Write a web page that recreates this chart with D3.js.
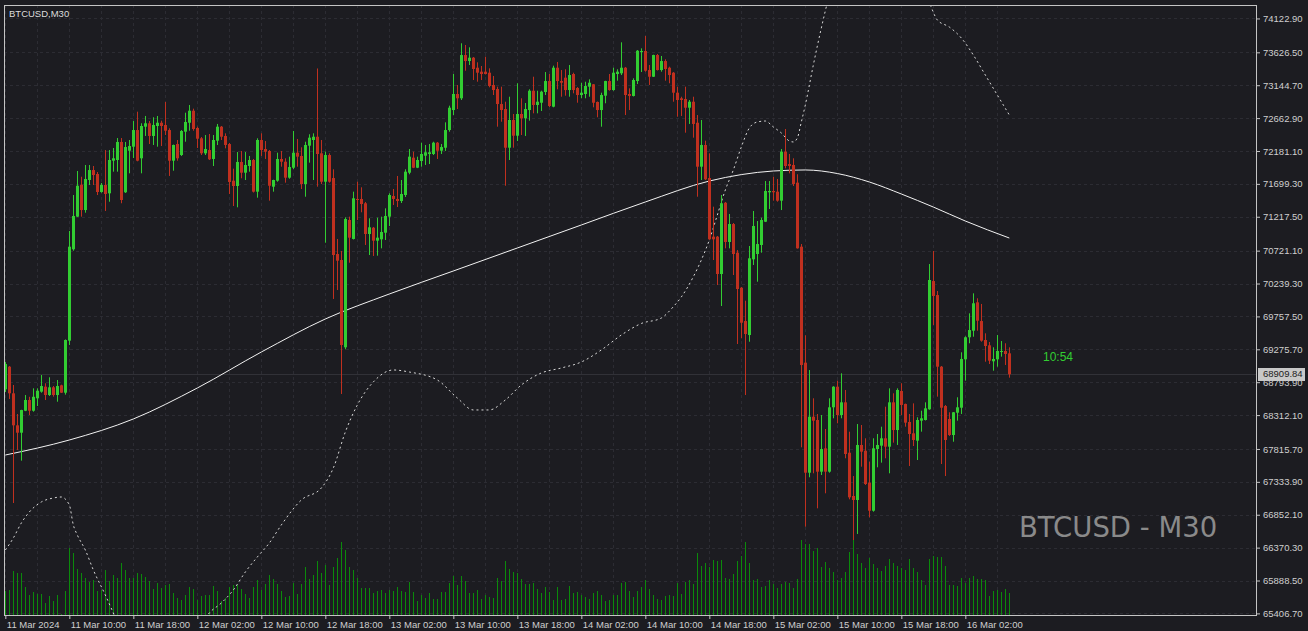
<!DOCTYPE html>
<html><head><meta charset="utf-8">
<script src="https://cdn.jsdelivr.net/npm/d3@7"></script>
<style>
html,body{margin:0;padding:0;background:#1c1c21;overflow:hidden;}
svg{display:block;}
</style></head><body>
<svg id="chart" width="1308" height="631"></svg>
<script>
const symbolTitle = "BTCUSD,M30";
const watermark = "BTCUSD - M30";
const timerText = "10:54";
const lastPrice = 68909.84;

const priceTicks = [74122.90, 73626.50, 73144.70, 72662.90, 72181.10, 71699.30, 71217.50, 70721.10, 70239.30, 69757.50, 69275.70, 68793.90, 68312.10, 67815.70, 67333.90, 66852.10, 66370.30, 65888.50, 65406.70];

const timeTickIdx = [0, 16, 32, 48, 64, 80, 96, 112, 128, 144, 160, 176, 192, 208, 224, 240];
const timeTickLabels = ["11 Mar 2024", "11 Mar 10:00", "11 Mar 18:00", "12 Mar 02:00", "12 Mar 10:00", "12 Mar 18:00", "13 Mar 02:00", "13 Mar 10:00", "13 Mar 18:00", "14 Mar 02:00", "14 Mar 10:00", "14 Mar 18:00", "15 Mar 02:00", "15 Mar 10:00", "15 Mar 18:00", "16 Mar 02:00"];

const opens = [68690,69021,68631,68162,68054,68376,68533,68376,68558,68655,68728,68606,68719,68606,68748,68640,69402,70741,71219,71687,71316,71756,71902,71844,71580,71683,71561,72039,72049,72313,71576,72185,72244,72488,72074,72537,72587,72401,72547,72595,72562,72488,72039,72283,72122,72464,72595,72771,72518,72367,72147,72195,72064,72332,72537,72401,72283,71746,71668,72020,71863,71961,72049,71585,72342,72210,72181,71658,71746,72064,72024,71790,71936,72156,72108,71697,72259,72342,72390,72147,71731,72122,71785,70672,70584,69305,71170,70892,71478,71478,71415,70965,71057,70867,70887,70984,71219,71522,71478,71448,71536,71863,72083,71936,72034,72112,72137,72137,72303,72185,72229,72488,72781,73016,72953,73587,73499,73548,73401,73343,73343,73328,73148,73089,72869,72796,72229,72635,72405,72723,72660,72781,73064,72855,72888,73045,73206,72830,73401,73206,73255,73074,73309,73104,73001,73016,73123,73158,72899,72781,72991,73206,73074,73309,73319,73401,73016,72987,73206,73631,73646,73367,73269,73587,73367,73499,73401,73328,73035,72953,72943,72815,72903,72595,71951,72269,71785,70926,70926,70379,71423,70848,71111,70691,70178,69690,69485,70594,70672,70804,71145,71576,71595,71585,71453,72171,71990,71976,71717,70779,69080,67468,68288,68240,67483,67825,67483,68426,68728,68313,68499,67761,67127,67068,67874,67790,67322,66911,67815,67864,67972,67849,68499,68093,68665,68475,68211,68045,67937,68230,68240,68397,70276,70071,69021,68445,68255,68020,68347,68420,69129,69452,69548,69964,69690,69412,69334,69100,69129,69241,69251,69217];

const highs = [69090,69031,68753,68328,68390,68606,68580,68704,68704,68899,68778,68866,68738,68826,68757,69420,71009,71536,71888,71804,71976,71976,71961,71873,71712,72195,72195,72225,72371,72371,72313,72342,72620,72757,72587,72694,72620,72675,72694,72625,72899,72513,72275,72342,72488,72742,72855,72801,72537,72386,72415,72430,72415,72577,72547,72440,72298,71922,72166,72181,72166,72108,72064,72367,72440,72327,72195,71760,72156,72181,72074,72098,72474,72357,72235,72317,72426,72440,73390,72342,72171,72147,71913,70892,70716,71209,71219,71585,71731,71649,71434,71195,71068,71204,71219,71341,71561,71624,71815,71756,71913,72210,72171,72098,72303,72269,72283,72317,72313,72283,72601,72845,73309,73148,73759,73734,73700,73558,73480,73426,73562,73392,73280,73123,73123,72903,72976,72723,73173,72953,72884,73085,73269,73064,73064,73338,73309,73431,73485,73367,73378,73441,73328,73118,73181,73196,73231,73162,72906,73035,73210,73309,73401,73378,73773,73412,73099,73246,73660,73685,73866,73441,73592,73602,73573,73524,73416,73338,73123,72976,73123,72928,72976,72708,72635,72332,72147,71365,70936,71536,71434,71258,71126,70730,70188,69988,70789,71302,71155,71204,71741,71741,71804,71771,72210,72503,72137,72074,71840,70818,69481,68972,68558,68328,68313,68108,68558,68735,68816,68924,68680,68069,67419,68181,68167,67972,67629,67972,68035,68142,68435,68704,68631,68704,68778,68480,68328,68484,68280,68376,68499,70525,70716,70130,69031,68460,68353,68357,68573,69232,69466,69803,70096,70023,69940,69510,69383,69305,69485,69397,69364,69305];

const lows = [68650,68548,67024,67800,67644,68370,68313,68362,68445,68640,68533,68592,68582,68508,68636,68611,69339,70720,71215,71219,71277,71683,71683,71536,71570,71302,71438,71878,71878,71415,71566,71854,72078,72030,71854,72401,72283,72269,72244,72254,72415,71815,71892,72039,72108,72317,72478,72478,72225,72122,72122,72049,71961,72269,72342,72220,71551,71375,71356,71781,71756,71878,71573,71497,72108,72064,71453,71585,71731,71951,71717,71775,71917,71951,71624,71511,72010,71756,71658,71697,70837,71717,70013,70144,68621,69276,70544,70885,71170,71283,70804,70657,70643,70647,70755,70877,71082,71390,71360,71419,71507,71840,71930,71930,71951,71976,71990,72122,72064,72137,72181,72464,72708,72796,72928,73357,73441,73221,73196,73221,73302,73114,73001,72537,72610,71672,72049,72229,72327,72415,72401,72625,72733,72733,72767,73001,72825,72821,73085,72976,72991,72976,73026,72888,72953,72953,72976,72821,72675,72537,72880,73064,73064,73211,73294,72708,72781,72980,73162,73338,73343,73148,73265,73360,73343,73211,73173,72903,72683,72694,72449,72577,72376,71511,71756,71756,70880,70584,70218,69910,70755,70755,70364,69353,69437,68606,69387,70511,70266,70691,71140,71331,71453,71438,71316,71927,71854,71668,70750,67840,66677,67401,67459,66946,67434,67166,67468,68265,68192,68265,67679,67078,66482,66570,67556,67288,66814,66897,67547,67615,67679,67459,67908,67874,68313,68142,67566,67859,67654,68069,68233,68390,69632,68582,67595,67419,68006,67922,68230,68328,68816,69364,69460,69548,69387,69094,69060,68962,69021,69168,69046,68860];

const closes = [69060,68631,68162,68054,68386,68533,68376,68580,68669,68738,68606,68719,68606,68738,68640,69412,70779,71229,71672,71316,71771,71902,71829,71580,71683,71551,72049,72074,72313,71463,72239,72254,72488,72039,72547,72587,72401,72562,72595,72547,72478,72039,72269,72074,72474,72606,72771,72503,72361,72147,72210,72059,72342,72537,72390,72269,71727,71668,72020,71863,71976,72049,71585,72342,72195,72171,71672,71756,72064,72024,71790,71946,72156,72098,71697,72269,72376,72390,72137,71731,72122,71731,70657,70574,69339,71185,70911,71488,71463,71404,70965,71063,70867,70911,70994,71229,71536,71478,71448,71551,71878,72098,71936,72049,72137,72162,72162,72303,72185,72239,72488,72815,73016,72953,73587,73499,73548,73382,73328,73309,73309,73133,73074,72869,72781,72229,72635,72405,72723,72660,72796,73064,72855,72903,73050,73206,72840,73401,73206,73181,73074,73294,73074,73001,73035,73133,73181,72888,72781,73001,73206,73074,73328,73343,73401,73001,72987,73221,73650,73646,73357,73269,73587,73367,73499,73382,73294,73035,72928,72928,72815,72903,72577,71951,72269,71766,70887,70887,70379,71415,70848,71111,70672,70159,69665,69500,70609,71082,70818,71170,71595,71595,71576,71453,72171,71961,71961,71697,70755,69046,67468,68288,68230,67483,67815,67483,68426,68728,68313,68499,67742,67107,67068,67874,67776,67302,66911,67825,67874,67972,67849,68499,68093,68680,68460,68201,68035,67947,68240,68265,68411,70291,70057,69021,68420,67947,68020,68353,68426,69134,69452,69558,69950,69695,69402,69324,69109,69134,69251,69251,69207,68909.84];

const volumes = [240,250,440,420,420,280,200,230,210,210,120,190,140,200,10,240,670,620,460,420,370,330,350,240,250,450,340,400,370,520,450,370,370,420,410,380,340,260,320,270,300,310,220,170,150,200,280,260,150,190,200,200,290,240,140,170,280,300,300,260,210,170,280,350,250,310,400,360,310,240,180,190,320,210,310,480,360,400,540,420,500,300,480,570,730,650,480,450,370,270,270,270,220,240,250,220,250,240,280,240,230,330,230,140,200,170,220,160,160,230,230,320,390,300,390,340,220,220,250,160,200,180,170,370,340,540,460,430,420,360,310,310,320,260,220,280,230,150,280,150,160,290,220,230,200,180,160,220,240,200,140,150,200,200,320,330,240,180,240,280,350,260,200,160,150,190,200,190,320,210,330,350,310,620,490,520,480,550,540,550,370,360,410,540,590,730,520,350,360,280,290,350,310,270,310,330,320,270,360,750,710,710,640,670,480,530,470,430,350,370,430,630,750,610,520,470,570,510,470,440,490,560,520,490,470,450,560,470,430,350,300,560,590,580,580,490,300,300,290,370,320,370,390,360,360,350,190,240,250,230,260,220];

const maIdx = [0, 16, 32, 48, 64, 80, 96, 112, 128, 144, 160, 176, 192, 200, 208, 216, 224, 232, 240, 251];
const maVals = [67727, 67947, 68255, 68709, 69236, 69720, 70086, 70423, 70760, 71097, 71434, 71741, 71888, 71903, 71851, 71727, 71551, 71360, 71155, 70906];

const bandIdx = [0,2,4,6,9,12,14,16,17,18,20,22,25,27,30,35,40,45,50,51,54,57,60,63,66,69,74,79,82,85,88,92,97,101,108,113,117,121,125,129,134,139,144,149,154,159,164,167,169,172,174,176,178,180,182,184,186,188,190,192,194,196,197,198,199,200,202,204,206,210,215,220,225,231,233,236,239,242,245,248,251];
const bandVals = [66335,66511,66731,66892,67039,67097,67112,66995,66702,66555,66335,66043,65676,65413,65017,64651,64577,64870,65339,65413,65559,65750,66013,66233,66438,66702,67068,67244,67537,68064,68460,68797,68973,68943,68826,68562,68387,68387,68533,68753,68929,69002,69090,69266,69485,69654,69734,69900,70042,70339,70584,70877,71243,71610,71903,72240,72518,72606,72620,72533,72445,72327,72313,72371,72606,72855,73441,73983,74466,75126,75565,75419,74833,74349,74100,73997,73836,73587,73294,73001,72708];

// ---------- drawing ----------
const W = 1308, H = 631;
const plot = {left: 4, top: 5, right: 1256, bottom: 615};
const UP = "#32cd32", DOWN = "#c0301f", VOL = "#0b8a0b", GRID = "#2c2c33", FRAME = "#c4c4c4", TXT = "#cfcfcf";
const FONT = "'Liberation Sans', Arial, sans-serif";

const svg = d3.select("#chart");
svg.append("rect").attr("width", W).attr("height", H).attr("fill", "#1c1c21");

const x = d3.scaleLinear().domain([0, 251]).range([5.33, 1009.33]);
const y = d3.scaleLinear().domain([65406.7, 74122.9]).range([613.4, 18.44]);
const vy = d3.scaleLinear().domain([0, 750]).range([615, 540]);
const px = i => Math.round(x(i));

svg.append("defs").append("clipPath").attr("id", "clip")
  .append("rect").attr("x", plot.left + 1).attr("y", plot.top + 1)
  .attr("width", plot.right - plot.left - 1).attr("height", plot.bottom - plot.top - 1);

// grid
const grid = svg.append("g").attr("clip-path", "url(#clip)");
grid.selectAll("line.h").data(priceTicks).join("line")
  .attr("x1", plot.left).attr("x2", plot.right)
  .attr("y1", d => Math.round(y(d)) + 0.5).attr("y2", d => Math.round(y(d)) + 0.5)
  .attr("stroke", GRID).attr("stroke-dasharray", "3,3");
const vgrid = d3.range(0, 252, 8);
grid.selectAll("line.v").data(vgrid).join("line")
  .attr("y1", plot.top).attr("y2", plot.bottom)
  .attr("x1", d => px(d) + 0.5).attr("x2", d => px(d) + 0.5)
  .attr("stroke", GRID).attr("stroke-dasharray", "3,3");

const g = svg.append("g").attr("clip-path", "url(#clip)");

// last price line
g.append("line").attr("x1", plot.left).attr("x2", plot.right)
  .attr("y1", Math.round(y(lastPrice)) + 0.5).attr("y2", Math.round(y(lastPrice)) + 0.5)
  .attr("stroke", "#313137");

// volumes
g.selectAll("line.vol").data(volumes).join("line")
  .attr("x1", (d, i) => px(i) + 0.5).attr("x2", (d, i) => px(i) + 0.5)
  .attr("y1", vy(0)).attr("y2", d => vy(d))
  .attr("stroke", VOL).attr("stroke-width", 1);

// moving average
const maLine = d3.line().x(d => x(d[0])).y(d => y(d[1])).curve(d3.curveMonotoneX);
g.append("path").datum(maIdx.map((k, i) => [k, maVals[i]]))
  .attr("d", maLine).attr("fill", "none").attr("stroke", "#f2f2f2").attr("stroke-width", 1);

// dotted band
g.append("path").datum(bandIdx.map((k, i) => [k, bandVals[i]]))
  .attr("d", maLine).attr("fill", "none").attr("stroke", "#d8d8d8")
  .attr("stroke-width", 1).attr("stroke-dasharray", "2,3");

// candles
const candles = g.append("g");
const idx = d3.range(opens.length);
candles.selectAll("line.wick").data(idx).join("line")
  .attr("x1", i => px(i) + 0.5).attr("x2", i => px(i) + 0.5)
  .attr("y1", i => y(highs[i])).attr("y2", i => y(lows[i]))
  .attr("stroke", i => closes[i] >= opens[i] ? UP : DOWN);
candles.selectAll("rect.body").data(idx).join("rect")
  .attr("x", i => px(i) - 1).attr("width", 3)
  .attr("y", i => Math.min(y(opens[i]), y(closes[i])))
  .attr("height", i => Math.max(1, Math.abs(y(opens[i]) - y(closes[i]))))
  .attr("fill", i => closes[i] >= opens[i] ? UP : DOWN);

// frame
svg.append("rect").attr("x", plot.left + 0.5).attr("y", plot.top + 0.5)
  .attr("width", plot.right - plot.left).attr("height", plot.bottom - plot.top)
  .attr("fill", "none").attr("stroke", FRAME);

// right axis
const yAxis = d3.axisRight(y).tickValues(priceTicks).tickFormat(d => d.toFixed(2)).tickSize(4).tickPadding(3);
const ya = svg.append("g").attr("transform", `translate(${plot.right},0)`).call(yAxis);
ya.select(".domain").remove();
ya.selectAll("line").attr("stroke", FRAME);
ya.selectAll("text").attr("fill", TXT).style("font", `9.5px ${FONT}`);

// bottom axis
const xAxis = d3.axisBottom(x).tickValues(timeTickIdx).tickFormat((d, i) => timeTickLabels[i]).tickSize(4).tickPadding(2);
const xa = svg.append("g").attr("transform", `translate(0,${plot.bottom})`).call(xAxis);
xa.select(".domain").remove();
xa.selectAll("line").attr("stroke", FRAME);
xa.selectAll("text").attr("fill", TXT).attr("text-anchor", "start").attr("x", 1).style("font", `9.5px ${FONT}`);

// last price label
const ly = Math.round(y(lastPrice));
svg.append("rect").attr("x", 1258).attr("y", ly - 6).attr("width", 47).attr("height", 13).attr("fill", "#c8c8c8");
svg.append("text").attr("x", 1263).attr("y", ly).attr("dy", "0.35em").attr("fill", "#202020")
  .style("font", `9.5px ${FONT}`).text(lastPrice.toFixed(2));

// texts
svg.append("text").attr("x", 9).attr("y", 14).attr("dy", "0.35em").attr("fill", "#dcdcdc")
  .style("font", `9.5px ${FONT}`).text(symbolTitle);
svg.append("text").attr("x", 1043).attr("y", 357).attr("dy", "0.35em").attr("fill", UP)
  .style("font", `12px ${FONT}`).text(timerText);
svg.append("text").attr("x", 1019).attr("y", 527).attr("dy", "0.36em").attr("fill", "#8a8a8a")
  .style("font", `27.5px 'DejaVu Sans', sans-serif`).text(watermark);
</script>
</body></html>
